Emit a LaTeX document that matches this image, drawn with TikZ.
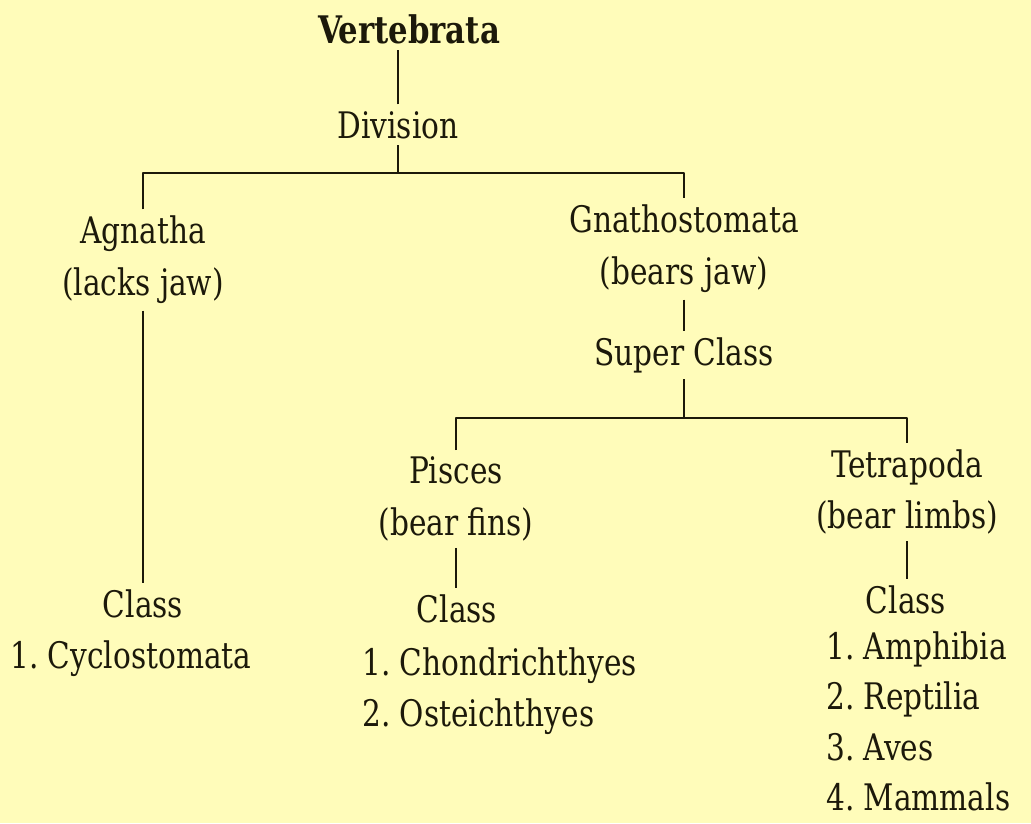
\documentclass[tikz,border=0pt]{standalone}
\usepackage{fontspec}
\setmainfont{DejaVu Serif Condensed}[FakeStretch=0.9]
\usetikzlibrary{positioning}
\frenchspacing

\definecolor{paper}{RGB}{255,252,186}
\definecolor{ink}{RGB}{28,25,10}

\begin{document}
\begin{tikzpicture}[x=0.025cm, y=-0.025cm, line join=round, line cap=butt]
        \tikzset{
            taxon/.style={text=ink, font=\fontsize{26}{36.9}\selectfont, align=center, inner sep=0.16cm},
            rank/.style={taxon, anchor=base},
            members/.style={taxon, align=left, inner sep=0pt},
            branch/.style={ink, line width=2pt},
        }
        \fill[paper] (0,0) rectangle (1031,823);

        % top of the tree
        \node[rank, font=\fontsize{27}{30}\selectfont\bfseries] (vert) at (409,43) {Vertebrata};
        \node[rank] (div) at (398,138) {Division};
        \coordinate (split1) at (398,173);

        % the two divisions
        \node[taxon] (agnatha) at (143,260) {Agnatha\\(lacks jaw)};
        \node[taxon] (gnatho) at (684,249) {Gnathostomata\\(bears jaw)};
        \node[rank] (aclass) at (143,617) {Class};
        \node[members, anchor=base west] (cyclo) at (10,668) {1. Cyclostomata};
        \node[rank] (super) at (684,365) {Super Class};
        \coordinate (split2) at (684,418);

        % the two super classes
        \node[taxon] (pisces) at (456,499) {Pisces\\(bear fins)};
        \node[taxon] (tetra) at (907,492) {Tetrapoda\\(bear limbs)};
        \node[rank] (pclass) at (457,622) {Class};
        \node[rank] (tclass) at (906,613) {Class};
        \node[members, anchor=north west] (fishes) at (362,647) {1. Chondrichthyes\\2. Osteichthyes};
        \node[members, anchor=north west, font=\fontsize{26}{36}\selectfont] (limbed) at (826,631) {1. Amphibia\\2. Reptilia\\3. Aves\\4. Mammals};

        % connectors
        \draw[branch] (div.north) -- (div.north |- vert.south);
        \draw[branch] (div) -- (split1);
        \draw[branch] (agnatha.north) -- (agnatha.north |- split1) -- (gnatho.north |- split1) -- (gnatho.north);
        \draw[branch] (agnatha) -- (aclass);
        \draw[branch] (gnatho) -- (super);
        \draw[branch] (super) -- (split2);
        \draw[branch] (pisces.north) -- (pisces.north |- split2) -- (tetra.north |- split2) -- (tetra.north);
        \draw[branch] (pisces.south) -- (pisces.south |- pclass.north);
        \draw[branch] (tetra.south) -- (tetra.south |- tclass.north);
    \end{tikzpicture}
\end{document}
